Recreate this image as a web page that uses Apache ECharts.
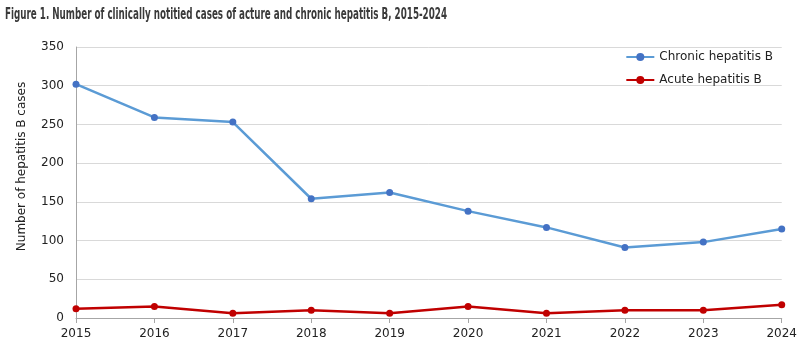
<!DOCTYPE html>
<html><head><meta charset="utf-8">
<script src="https://cdn.jsdelivr.net/npm/echarts@6/dist/echarts.min.js"></script>
<style>html,body{margin:0;padding:0;background:#fff}#c{width:800px;height:347px}</style>
</head><body><div id="c"></div>
<script>
var years = ['2015','2016','2017','2018','2019','2020','2021','2022','2023','2024'];
var chronic = [302, 259, 253, 154, 162, 138, 117, 91, 98, 115];
var acute = [12, 15, 6, 10, 6, 15, 6, 10, 10, 17];
var yTicks = {min: 0, max: 350, interval: 50};
var titleText = 'Figure 1. Number of clinically notitied cases of acture and chronic hepatitis B, 2015-2024';

var font = 'DejaVu Sans';
var titleFont = 'bold 15px "DejaVu Sans Condensed", "DejaVu Sans"';
var ctx = document.createElement('canvas').getContext('2d');
ctx.font = titleFont;
var titleScale = 442 / ctx.measureText(titleText).width;

var chart = echarts.init(document.getElementById('c'));
chart.setOption({
  animation: false,
  backgroundColor: '#fff',
  graphic: [{
    type: 'text', x: 5, y: 8, scaleX: titleScale, scaleY: 1, originX: 0, originY: 0,
    style: {text: titleText, font: titleFont, fill: '#3a3a3a', textVerticalAlign: 'top'}
  }],
  legend: {
    orient: 'vertical', right: 22, top: 46,
    itemWidth: 28, itemHeight: 10, itemGap: 11,
    textStyle: {fontFamily: font, fontSize: 12, color: '#222'},
    data: ['Chronic hepatitis B', 'Acute hepatitis B']
  },
  grid: {left: 76, right: 17, top: 47, bottom: 29, containLabel: false},
  xAxis: {
    type: 'category', data: years, boundaryGap: false,
    axisLine: {lineStyle: {color: '#a6a6a6', width: 1}},
    axisTick: {show: true, alignWithLabel: true, length: 5, lineStyle: {color: '#a6a6a6'}},
    axisLabel: {fontFamily: font, fontSize: 12, color: '#222', margin: 10}
  },
  yAxis: {
    type: 'value', min: yTicks.min, max: yTicks.max, interval: yTicks.interval,
    name: 'Number of hepatitis B cases', nameLocation: 'middle', nameGap: 48,
    nameTextStyle: {fontFamily: font, fontSize: 12, color: '#222', padding: [0, 0, 0, 32]},
    axisLine: {show: true, lineStyle: {color: '#a6a6a6', width: 1}},
    axisTick: {show: false},
    splitLine: {lineStyle: {color: '#d9d9d9', width: 1}},
    axisLabel: {fontFamily: font, fontSize: 12, color: '#222', margin: 12}
  },
  series: [
    {
      name: 'Chronic hepatitis B', type: 'line', data: chronic,
      symbol: 'circle', symbolSize: 7,
      lineStyle: {color: '#5B9BD5', width: 2.5},
      itemStyle: {color: '#4472C4'}
    },
    {
      name: 'Acute hepatitis B', type: 'line', data: acute,
      symbol: 'circle', symbolSize: 7,
      lineStyle: {color: '#C00000', width: 2.5},
      itemStyle: {color: '#C00000'}
    }
  ]
});
</script></body></html>
